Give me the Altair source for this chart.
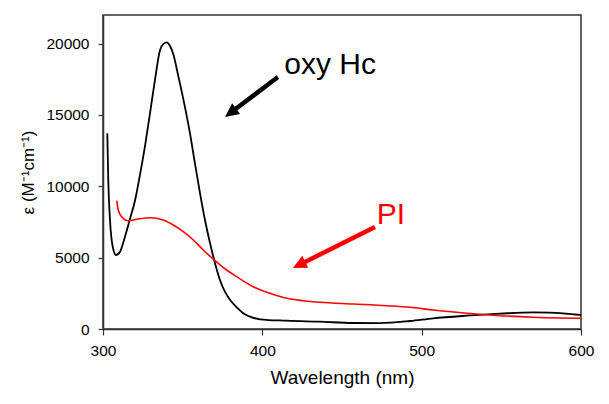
import math
import altair as alt
import pandas as pd

# ---- data ----
oxy_x = [302.7, 303.3, 304.4, 306.1, 308.2, 310.7, 313.8, 316.9, 320.1, 323.2,
         326.4, 329.5, 332.6, 335.8, 338.0, 340.0, 342.0, 344.0, 347.3, 350.8,
         354.6, 357.7, 360.9, 364.0, 367.2, 370.3, 373.4, 376.6, 379.7, 383.0,
         386.0, 389.0, 392.3, 398.6, 415.3, 436.2, 457.1, 474.0, 492.7, 507.3,
         528.3, 549.2, 570.1, 580.5, 600.0]
oxy_y = [13711, 10440, 7637, 5766, 5185, 5416, 6467, 7700, 9000, 10800,
         12850, 15112, 17445, 19547, 19980, 20086, 19850, 19300, 17700, 15900,
         13711, 11600, 9507, 7637, 6004, 4603, 3433, 2600, 2050, 1620,
         1300, 1030, 862, 680, 582, 511, 420, 410, 560, 750,
         932, 1072, 1170, 1142, 981]

pi_x = [308.6, 309.6, 311.7, 315.9, 321.2, 329.5, 337.8, 344.1, 350.4, 356.7,
        362.9, 369.2, 377.6, 383.9, 394.3, 404.8, 415.3, 425.7, 436.2, 457.1,
        478.0, 492.7, 507.3, 528.3, 549.2, 570.1, 600.0]
pi_y = [8990, 8337, 7868, 7588, 7686, 7798, 7637, 7286, 6817, 6235,
        5535, 4900, 4134, 3665, 2964, 2501, 2151, 1983, 1871, 1752,
        1632, 1520, 1331, 1100, 932, 820, 750]

x_ticks = [300, 400, 500, 600]
y_ticks = [0, 5000, 10000, 15000, 20000]

labels = ["oxy Hc", "PI"]
label_x = [442.5, 480.7]
label_y = [18500, 7990]
label_colors = ["#000000", "#ff0000"]

arrow_tail_x = [409.8, 470.7]
arrow_tail_y = [17655, 7146]
arrow_tip_x = [376.6, 419.2]
arrow_tip_y = [14853, 4274]

# ---- layout ----
W, H = 478, 314
XD = [300, 600]
YD = [0, 22000]
sx = W / (XD[1] - XD[0])
sy = H / (YD[1] - YD[0])

FONT = "Liberation Sans"

# arrow geometry (angle and shortened shaft) derived from the data
rows = []
for tx, ty, hx, hy, c in zip(arrow_tail_x, arrow_tail_y, arrow_tip_x, arrow_tip_y, label_colors):
    dxp = (hx - tx) * sx
    dyp = -(hy - ty) * sy
    L = math.hypot(dxp, dyp)
    ang = math.degrees(math.atan2(dxp, -dyp)) % 360
    back = 9.0
    ex = hx - back * dxp / (L * sx)
    ey = hy + back * dyp / (L * sy)
    rows.append(dict(tx=tx, ty=ty, ex=ex, ey=ey, hx=hx, hy=hy, angle=ang, color=c))
arrows = pd.DataFrame(rows)

oxy = pd.DataFrame({"wl": oxy_x, "eps": oxy_y})
pi = pd.DataFrame({"wl": pi_x, "eps": pi_y})
lab = pd.DataFrame({"label": labels, "x": label_x, "y": label_y, "color": label_colors})

xscale = alt.Scale(domain=XD, nice=False, zero=False)
yscale = alt.Scale(domain=YD, nice=False)

xenc = alt.X("wl:Q", scale=xscale,
             axis=alt.Axis(title="Wavelength (nm)", values=x_ticks, format="d",
                           labelFlush=False))
yenc = alt.Y("eps:Q", scale=yscale,
             axis=alt.Axis(title="ε (M⁻¹cm⁻¹)", values=y_ticks, format="d",
                           labelFlush=False))

oxy_line = alt.Chart(oxy).mark_line(color="#000000", strokeWidth=1.8, clip=True,
                                    interpolate="monotone").encode(
    x=xenc, y=yenc, order="wl:Q")
pi_line = alt.Chart(pi).mark_line(color="#ff0000", strokeWidth=1.6, clip=True,
                                  interpolate="monotone").encode(
    x=alt.X("wl:Q", scale=xscale), y=alt.Y("eps:Q", scale=yscale), order="wl:Q")

shafts = alt.Chart(arrows).mark_rule(strokeWidth=4.5).encode(
    x=alt.X("tx:Q", scale=xscale), y=alt.Y("ty:Q", scale=yscale),
    x2="ex:Q", y2="ey:Q",
    color=alt.Color("color:N", scale=None))

heads = alt.Chart(arrows).mark_point(
    shape="M0,0 L-0.65,1.35 L0.65,1.35 Z", filled=True, size=420, opacity=1,
    strokeWidth=0).encode(
    x=alt.X("hx:Q", scale=xscale), y=alt.Y("hy:Q", scale=yscale),
    angle=alt.Angle("angle:Q", scale=None),
    color=alt.Color("color:N", scale=None))

text_oxy = alt.Chart(lab.iloc[[0]]).mark_text(
    font=FONT, fontSize=30, align="center", baseline="middle").encode(
    x=alt.X("x:Q", scale=xscale), y=alt.Y("y:Q", scale=yscale),
    text="label:N", color=alt.Color("color:N", scale=None))
text_pi = alt.Chart(lab.iloc[[1]]).mark_text(
    font=FONT, fontSize=30, align="center", baseline="middle").encode(
    x=alt.X("x:Q", scale=xscale), y=alt.Y("y:Q", scale=yscale),
    text="label:N", color=alt.Color("color:N", scale=None))

chart = alt.layer(oxy_line, pi_line, shafts, heads, text_oxy, text_pi).properties(
    width=W, height=H,
    autosize=alt.AutoSizeParams(type="none"),
    padding={"left": 95, "top": 7, "right": 20, "bottom": 67},
    background="white",
).configure_view(
    stroke="#333333", strokeWidth=1.5
).configure_axis(
    grid=False,
    domainColor="#333333", domainWidth=1.5,
    tickColor="#333333", tickWidth=1.2, tickSize=6,
    labelFont=FONT, labelFontSize=15.5, labelColor="#000000", labelPadding=8,
    titleFont=FONT, titleFontSize=19, titleFontWeight="normal", titleColor="#000000",
).configure_axisY(
    titleFontSize=17, titlePadding=8, labelPadding=9, tickSize=5
).configure_axisX(
    titlePadding=10
)

chart.save("out.html", embed_options={"renderer": "svg", "actions": False})
